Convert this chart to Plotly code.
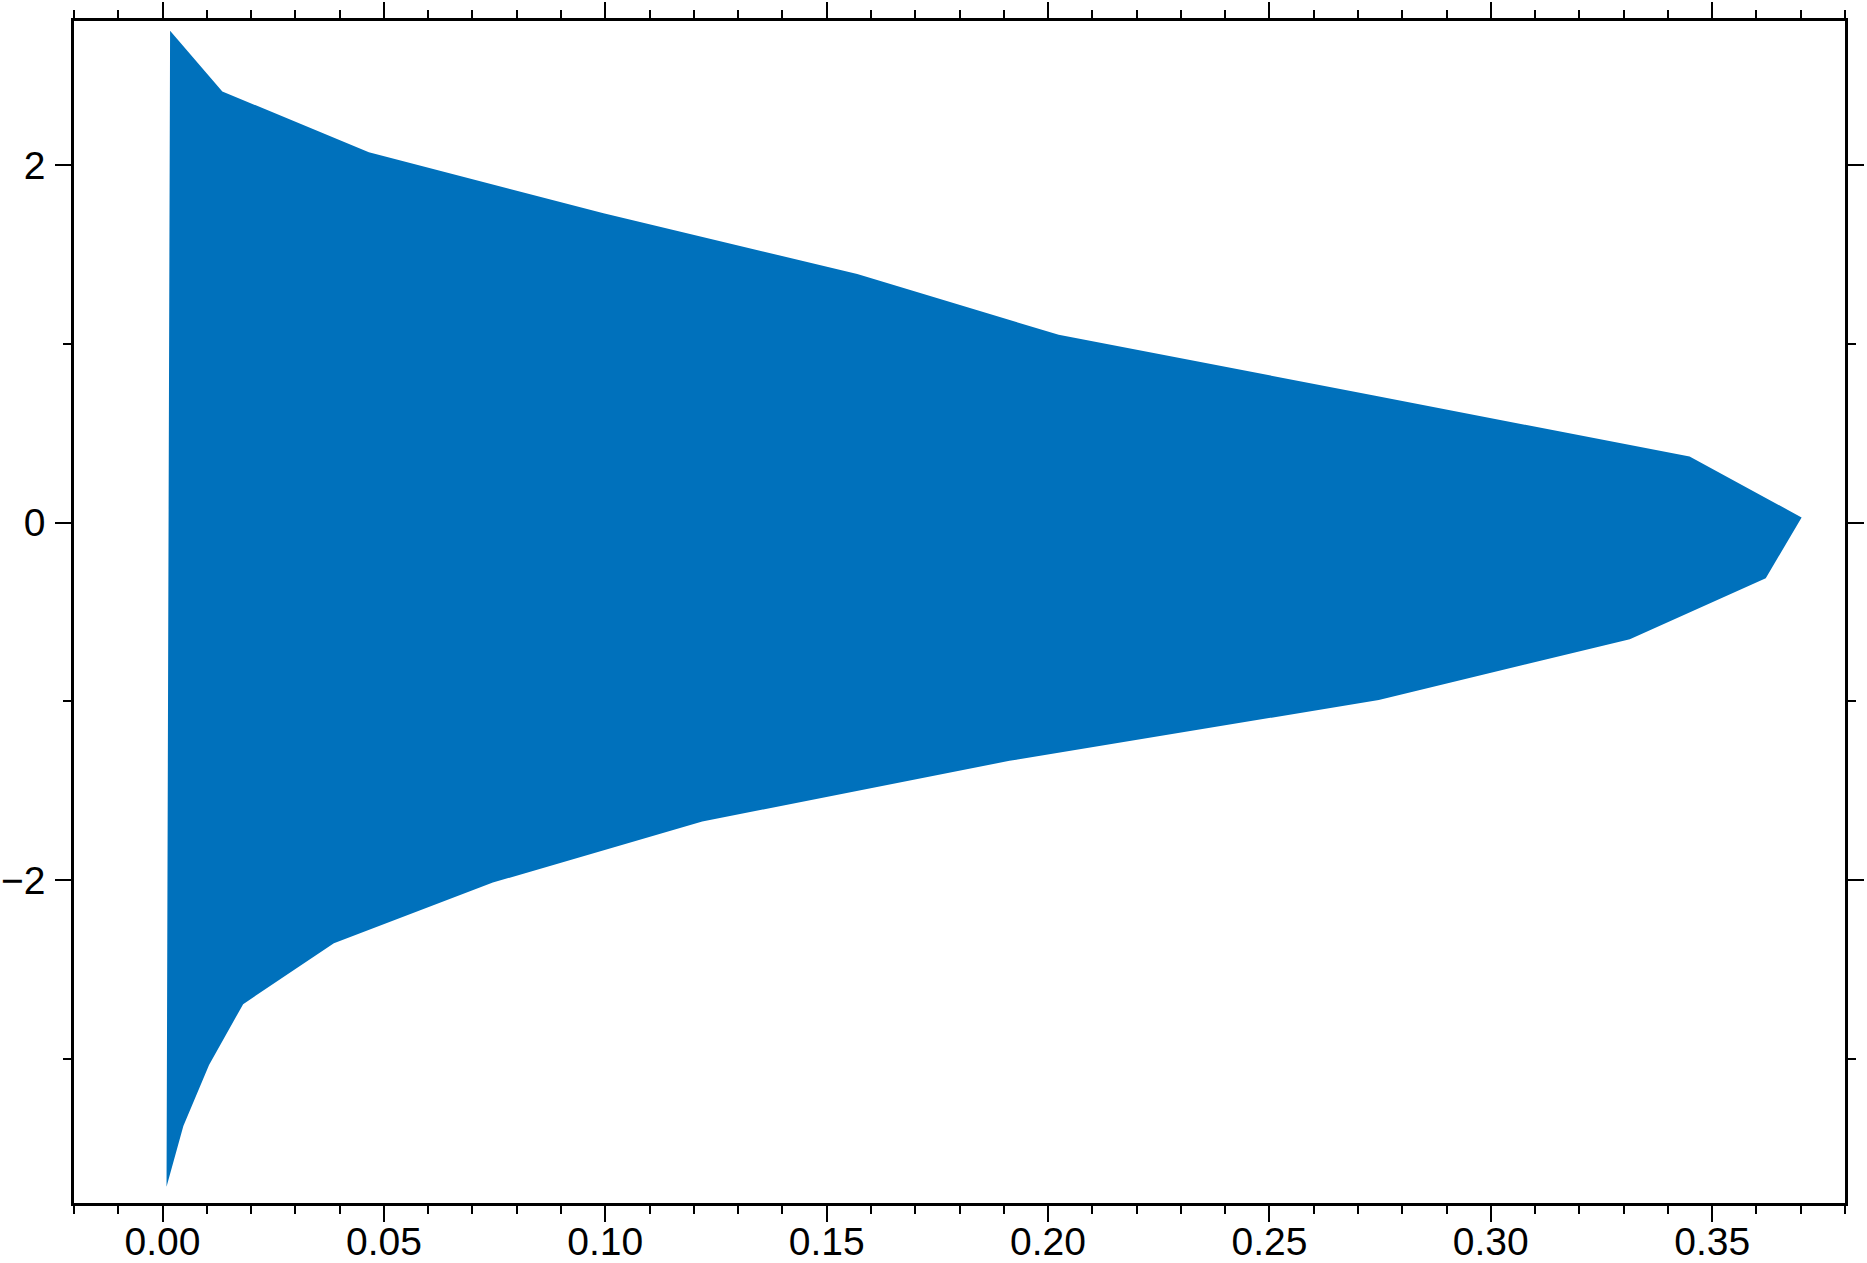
import plotly.graph_objects as go

# Density polygon vertices (x = density, y = value)
density = [0.0017, 0.0135, 0.0466, 0.0996, 0.1569, 0.2024, 0.2739, 0.3449, 0.3702, 0.3621,
           0.3314, 0.2747, 0.1913, 0.1219, 0.0746, 0.0387, 0.0182, 0.0105, 0.0047, 0.0009]
values = [2.751, 2.411, 2.071, 1.730, 1.390, 1.050, 0.710, 0.369, 0.029, -0.311,
          -0.652, -0.992, -1.332, -1.672, -2.013, -2.353, -2.693, -3.033, -3.374, -3.714]

x_range = [-0.02, 0.38]
y_range = [-3.805, 2.805]

fig = go.Figure()
fig.add_trace(go.Scatter(
    x=density, y=values, mode="lines", fill="toself",
    fillcolor="#0071BC", line=dict(width=0, color="#0071BC"),
    hoverinfo="skip", showlegend=False,
))

axis_common = dict(
    showline=True, linecolor="black", linewidth=2.5, mirror="allticks",
    ticks="outside", ticklen=16, tickwidth=2, tickcolor="black",
    showgrid=False, zeroline=False,
    tickfont=dict(family="Liberation Sans, Arial, sans-serif", size=39, color="black"),
)

fig.update_xaxes(range=x_range, dtick=0.05, tick0=0, tickformat=".2f",
                 minor=dict(dtick=0.01, tick0=0, ticklen=8, tickwidth=2, tickcolor="black", ticks="outside"),
                 ticklabelstandoff=-14, **axis_common)
fig.update_yaxes(range=y_range, dtick=2, tick0=0,
                 minor=dict(dtick=1, tick0=0, ticklen=8, tickwidth=2, tickcolor="black", ticks="outside"),
                 ticklabelstandoff=2, **axis_common)

fig.update_layout(
    width=1867, height=1263,
    margin=dict(l=74, r=22, t=21, b=60, autoexpand=False),
    plot_bgcolor="white", paper_bgcolor="white",
)

fig.write_html(
    "out.html",
    config={"displayModeBar": False},
    post_script="document.body.style.margin='0';document.body.style.padding='0';document.body.style.overflow='hidden';",
)
